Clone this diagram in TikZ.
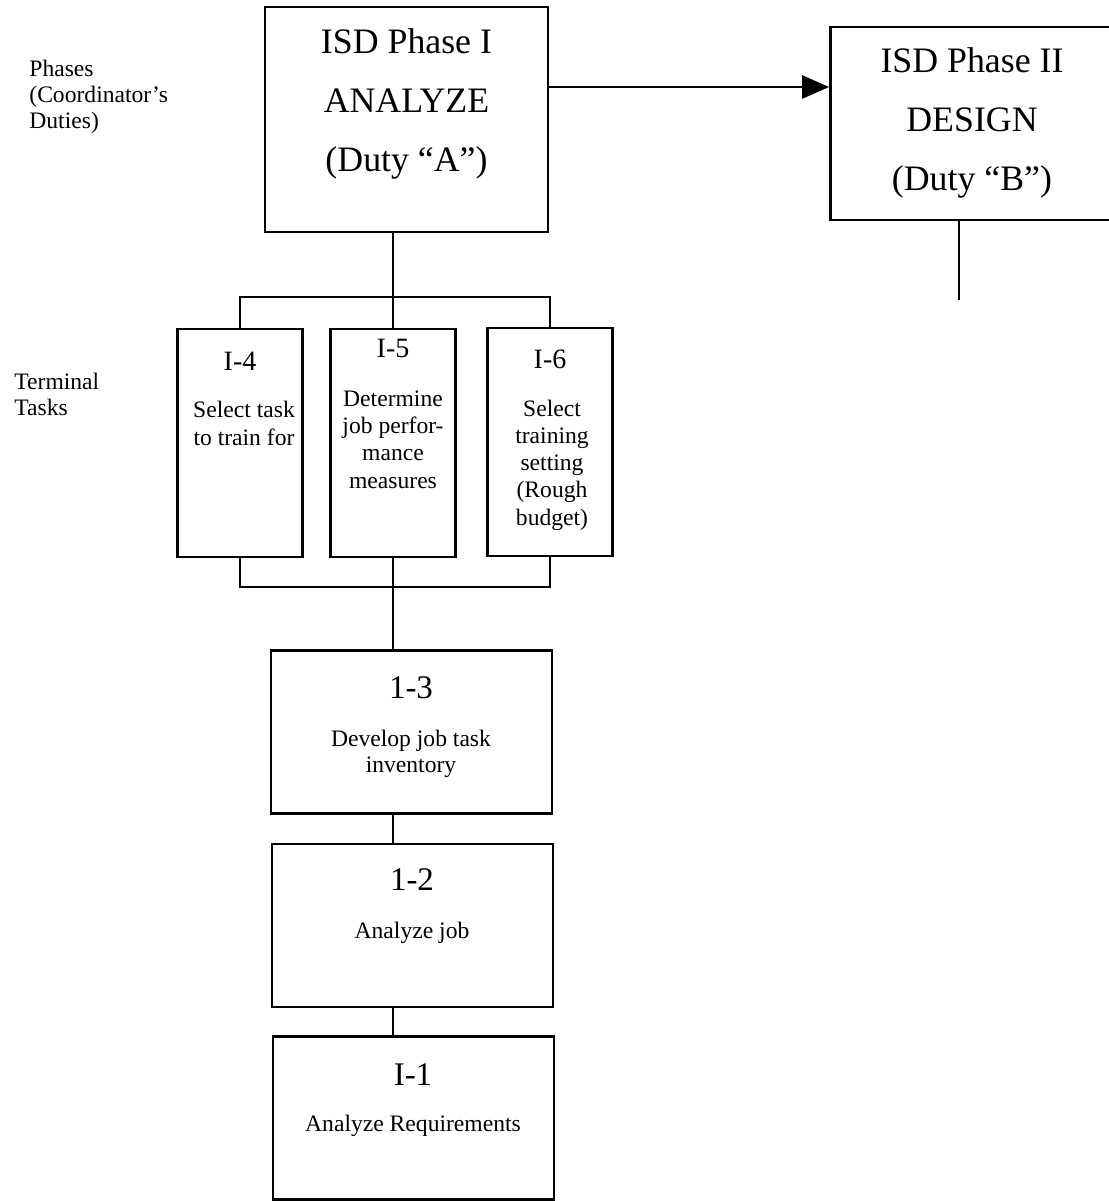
\documentclass[tikz,border=0pt]{standalone}
\usepackage{fontspec}
\setmainfont{Liberation Serif}
\usetikzlibrary{arrows.meta}

\begin{document}
\begin{tikzpicture}[x=0.5pt,y=-0.5pt,
  line/.style={line width=1.4pt},
  phasebox/.style={draw,line width=1.4pt,inner sep=0pt,minimum width=141.5pt,minimum height=#1},
  taskbox/.style={draw,line width=1.4pt,inner sep=0pt,minimum width=62.5pt,minimum height=114pt},
  stepbox/.style={draw,line width=1.4pt,inner sep=0pt,minimum width=140.5pt,minimum height=81.5pt},
  bigtxt/.style={font=\fontsize{17.9}{29.3}\selectfont,align=center,anchor=base,inner sep=0pt},
  smalltxt/.style={font=\fontsize{11.8}{13.6}\selectfont,align=center,anchor=base,inner sep=0pt},
  tasknum/.style={font=\fontsize{14}{16}\selectfont,anchor=base,inner sep=0pt},
  stepnum/.style={font=\fontsize{16.5}{19}\selectfont,anchor=base,inner sep=0pt},
  sidetxt/.style={font=\fontsize{11.8}{12.8}\selectfont,align=left,anchor=base west,inner sep=0pt}]
\useasboundingbox (0,0) rectangle (1109,1201);

% phases (text placed at the baseline of its last line)
\node[phasebox=112.5pt] (dutyA) at (406.5,119.5) {};
\node[phasebox=96.5pt] (dutyB) at (972,123.5) {};
\node[bigtxt] (dutyAtxt) at (406.5,171) {ISD Phase I\\ANALYZE\\(Duty ``A'')};
\node[bigtxt] (dutyBtxt) at (972,190) {ISD Phase II\\DESIGN\\(Duty ``B'')};
\coordinate (arr) at (0,87);
\draw[line,-{Triangle[length=13.5pt,width=11.5pt]}] (dutyA.east |- arr) -- (dutyB.west |- arr);
\coordinate (tailB) at (959,300);
\draw[line] (dutyB.south -| tailB) -- (tailB);

% terminal tasks
\node[taskbox] (tsk4) at (240,443) {};
\node[taskbox] (tsk5) at (393,443) {};
\node[taskbox] (tsk6) at (550,442) {};
\node[tasknum] (tsk4num) at (240,370) {I-4};
\node[tasknum] (tsk5num) at (393,357) {I-5};
\node[tasknum] (tsk6num) at (550,368) {I-6};
\node[smalltxt] (tsk4txt) at (244,445) {Select task\\to train for};
\node[smalltxt] (tsk5txt) at (393,488) {Determine\\job perfor-\\mance\\measures};
\node[smalltxt] (tsk6txt) at (552,525) {Select\\training\\setting\\(Rough\\budget)};

\coordinate (topjoin) at (393,297);
\coordinate (botjoin) at (393,587);
\draw[line] (dutyA.south -| tsk5.north) -- (tsk5.north);
\draw[line] (tsk4.north) -- (tsk4.north |- topjoin) -- (tsk6.north |- topjoin) -- (tsk6.north);
\draw[line] (tsk4.south) -- (tsk4.south |- botjoin) -- (tsk6.south |- botjoin) -- (tsk6.south);

% steps
\node[stepbox] (stp3) at (411.5,732) {};
\node[stepbox] (stp2) at (412.5,925.5) {};
\node[stepbox] (stp1) at (413.5,1118) {};
\node[stepnum] (stp3num) at (411,698) {1-3};
\node[stepnum] (stp2num) at (412,890) {1-2};
\node[stepnum] (stp1num) at (413,1085) {I-1};
\node[smalltxt,font=\fontsize{11.8}{13}\selectfont] (stp3txt) at (411,772) {Develop job task\\inventory};
\node[smalltxt] (stp2txt) at (412,938) {Analyze job};
\node[smalltxt] (stp1txt) at (413,1131) {Analyze Requirements};

\draw[line] (tsk5.south) -- (stp3.north -| tsk5.south);
\draw[line] (stp3.south -| tsk5.south) -- (stp2.north -| tsk5.south);
\draw[line] (stp2.south -| tsk5.south) -- (stp1.north -| tsk5.south);

% side labels
\node[sidetxt] (phaselbl) at (29,128) {Phases\\(Coordinator's\\Duties)};
\node[sidetxt] (tasklbl) at (14,415) {Terminal\\Tasks};
\end{tikzpicture}
\end{document}
